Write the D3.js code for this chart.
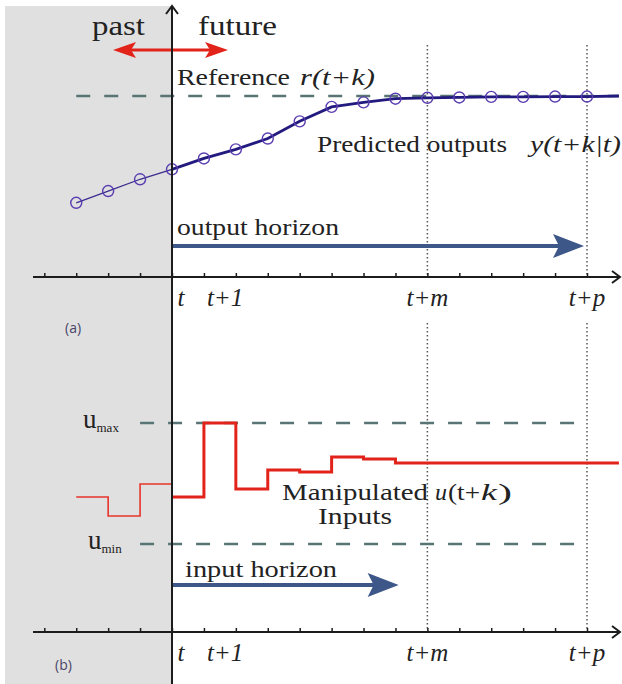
<!DOCTYPE html>
<html>
<head>
<meta charset="utf-8">
<script src="https://cdn.jsdelivr.net/npm/d3@7"></script>
<style>
  html, body { margin: 0; padding: 0; background: #fff; }
  text { font-family: "Liberation Serif", "Times New Roman", Times, serif; fill: #222; }
  text.tag { font-family: "Open Sans", "DejaVu Sans", sans-serif; fill: #4a4468; }
</style>
</head>
<body>
<div id="chart"></div>
<script>
// sample steps relative to t (t = 0)
var tickSteps = [-4,-3,-2,-1,0,1,2,3,4,5,6,7,8,9,10,11,12,13];
var tickLabels = [{step: 0, text: "t"}, {step: 1, text: "t+1"}, {step: 8, text: "t+m"}, {step: 13, text: "t+p"}];
var markerSteps = [8, 13]; // t+m and t+p

// (a) predicted outputs, 0 = axis, 100 = reference
var outputSteps = [-3,-2,-1,0,1,2,3,4,5,6,7,8,9,10,11,12,13,14];
var outputValues = [41, 47.5, 54, 59.5, 65.5, 70.5, 76.5, 86, 94, 96.5, 98.5, 99, 99.2, 99.5, 99.5, 99.7, 99.7, 100];
var referenceValue = 100;
var referenceSpan = [-3, 14];
var outputHorizon = [0, 13];

// (b) manipulated inputs, 0 = u_min, 100 = u_max
var inputPastSteps = [-3,-2,-1,0];
var inputPastValues = [38.8, 23.1, 49.6, 49.6];
var inputSteps = [0,1,2,3,4,5,6,7,14];
var inputValues = [38.8, 100, 45.5, 61.2, 59.5, 71.9, 70.2, 66.9, 66.9];
var uBounds = [{name: "max", value: 100}, {name: "min", value: 0}];
var boundSpan = [-1, 13];
var inputHorizon = [0, 7.1];

var W = 622, H = 684;
var svg = d3.select("#chart").append("svg")
	.attr("width", W).attr("height", H);

var x = d3.scaleLinear().domain([0, 13]).range([172, 587]);
var yA = d3.scaleLinear().domain([0, 100]).range([277, 96]);
var yB = d3.scaleLinear().domain([0, 100]).range([544, 423]);
var axisYA = 277, axisYB = 632;

var ink = "#1c1c1c";
var dashCol = "#587474";
var navy = "#3d5788";

//past shading
svg.append("rect")
	.attr("x", 5).attr("y", 6)
	.attr("width", x(0) - 5).attr("height", H - 6)
	.attr("fill", "#e0e0e0");

//dotted markers t+m, t+p
markerSteps.forEach(function(s){
	[[45, axisYA], [323, axisYB]].forEach(function(seg){
		svg.append("line")
			.attr("x1", x(s)).attr("x2", x(s))
			.attr("y1", seg[0]).attr("y2", seg[1])
			.attr("stroke", "#555").attr("stroke-width", 1.5)
			.attr("stroke-dasharray", "1.5,2.5");
	});
});

// text helper: parts = [text, x0, x1, italic]
function label(parts, y, size) {
	parts.forEach(function(p){
		svg.append("text")
			.attr("x", p[1]).attr("y", y)
			.attr("font-size", size)
			.attr("font-style", p[3] ? "italic" : "normal")
			.attr("textLength", p[2] - p[1])
			.attr("lengthAdjust", "spacingAndGlyphs")
			.text(p[0]);
	});
}

function hArrow(y, x0, x1, col) {
	svg.append("line")
		.attr("x1", x0).attr("x2", x1 - 20)
		.attr("y1", y).attr("y2", y)
		.attr("stroke", col).attr("stroke-width", 4);
	svg.append("path")
		.attr("d", "M" + x1 + "," + y + "L" + (x1 - 31) + "," + (y - 12) + "L" + (x1 - 25) + "," + y + "L" + (x1 - 31) + "," + (y + 12) + "Z")
		.attr("fill", col);
}

function axis(yPos) {
	var g = svg.append("g").attr("transform", "translate(0," + yPos + ")");
	g.call(d3.axisTop(x).tickValues(tickSteps).tickSize(4).tickSizeOuter(0).tickFormat(""));
	g.select(".domain").remove();
	g.selectAll(".tick line").attr("stroke", ink).attr("stroke-width", 1.5);
	svg.append("line")
		.attr("x1", 33).attr("x2", 620).attr("y1", yPos).attr("y2", yPos)
		.attr("stroke", ink).attr("stroke-width", 2);
	svg.append("path")
		.attr("d", "M612," + (yPos - 6) + "L620," + yPos + "L612," + (yPos + 6))
		.attr("fill", "none").attr("stroke", ink).attr("stroke-width", 2);
	tickLabels.forEach(function(d){
		svg.append("text")
			.attr("x", d.step === 0 ? x(0) + 9 : x(d.step))
			.attr("y", yPos + 29)
			.attr("text-anchor", d.step === 1 ? "start" : "middle")
			.attr("dx", d.step === 1 ? 3 : 0)
			.attr("font-size", 25).attr("font-style", "italic")
			.text(d.text);
	});
}

/////////////////////////////// panel (a) ///////////////////////////////
svg.append("line")
	.attr("x1", x(referenceSpan[0])).attr("x2", x(referenceSpan[1]))
	.attr("y1", yA(referenceValue)).attr("y2", yA(referenceValue))
	.attr("stroke", dashCol).attr("stroke-width", 2.6)
	.attr("stroke-dasharray", "14,14");

var outData = outputSteps.map(function(s, i){ return {s: s, v: outputValues[i]}; });
var outLine = d3.line().x(function(d){ return x(d.s); }).y(function(d){ return yA(d.v); });

svg.append("path")
	.datum(outData.filter(function(d){ return d.s <= 0; }))
	.attr("d", outLine).attr("fill", "none")
	.attr("stroke", "#3b2d8f").attr("stroke-width", 1.3);
svg.append("path")
	.datum(outData.filter(function(d){ return d.s >= 0; }))
	.attr("d", outLine).attr("fill", "none")
	.attr("stroke", "#221a7e").attr("stroke-width", 2.8);

svg.selectAll(".pt")
	.data(outData.filter(function(d){ return d.s <= 13; }))
	.enter().append("circle")
	.attr("class", "pt")
	.attr("cx", function(d){ return x(d.s); })
	.attr("cy", function(d){ return yA(d.v); })
	.attr("r", 5.5)
	.attr("fill", "none").attr("stroke", "#5a3db0").attr("stroke-width", 1.4);

hArrow(246, x(outputHorizon[0]), x(outputHorizon[1]) - 3, navy);

axis(axisYA);

label([["past", 92, 145]], 35, 28);
label([["future", 198, 277]], 35, 28);
label([["Reference", 177, 290], ["r(t+k)", 300, 375, true]], 85, 24);
label([["Predicted outputs", 317, 507], ["y(t+k|t)", 530, 621, true]], 152, 24);
label([["output horizon", 177, 339]], 235, 23);

// past/future double arrow
var redCol = "#e2231a";
svg.append("line").attr("x1", 125).attr("x2", 216).attr("y1", 50).attr("y2", 50)
	.attr("stroke", redCol).attr("stroke-width", 3);
svg.append("path").attr("d", "M113,50L136,42L131,50L136,58Z").attr("fill", redCol);
svg.append("path").attr("d", "M228,50L205,42L210,50L205,58Z").attr("fill", redCol);

svg.append("text").attr("class", "tag").attr("x", 65).attr("y", 333)
	.attr("font-size", 14).text("(a)");

/////////////////////////////// panel (b) ///////////////////////////////
uBounds.forEach(function(b){
	svg.append("line")
		.attr("x1", x(boundSpan[0])).attr("x2", x(boundSpan[1]))
		.attr("y1", yB(b.value)).attr("y2", yB(b.value))
		.attr("stroke", dashCol).attr("stroke-width", 2.6)
		.attr("stroke-dasharray", "14,14");
	var t = svg.append("text")
		.attr("x", b.name === "max" ? 83 : 88)
		.attr("y", yB(b.value) + 5)
		.attr("font-size", 27);
	t.append("tspan").text("u");
	t.append("tspan").attr("dy", 4).attr("font-size", 13).text(b.name);
});

var inLine = d3.line().curve(d3.curveStepAfter)
	.x(function(d){ return x(d.s); }).y(function(d){ return yB(d.v); });

svg.append("path")
	.datum(inputPastSteps.map(function(s, i){ return {s: s, v: inputPastValues[i]}; }))
	.attr("d", inLine).attr("fill", "none")
	.attr("stroke", "#e8332b").attr("stroke-width", 1.6);
svg.append("path")
	.datum(inputSteps.map(function(s, i){ return {s: s, v: inputValues[i]}; }))
	.attr("d", inLine).attr("fill", "none")
	.attr("stroke", "#e2231a").attr("stroke-width", 3);

hArrow(585, x(inputHorizon[0]), x(inputHorizon[1]), navy);

axis(axisYB);

label([["Manipulated", 282, 428], ["u", 435, 447, true], ["(t+", 448, 480], ["k", 481, 497, true], [")", 498, 512]], 500, 24);
label([["Inputs", 318, 392]], 524, 24);
label([["input horizon", 185, 337]], 577, 23);

svg.append("text").attr("class", "tag").attr("x", 55).attr("y", 670)
	.attr("font-size", 14).text("(b)");

// vertical time axis at t
svg.append("line")
	.attr("x1", x(0)).attr("x2", x(0)).attr("y1", 6).attr("y2", H)
	.attr("stroke", ink).attr("stroke-width", 2);
svg.append("path")
	.attr("d", "M" + (x(0) - 6) + ",14L" + x(0) + ",6L" + (x(0) + 6) + ",14")
	.attr("fill", "none").attr("stroke", ink).attr("stroke-width", 2);
</script>
</body>
</html>
